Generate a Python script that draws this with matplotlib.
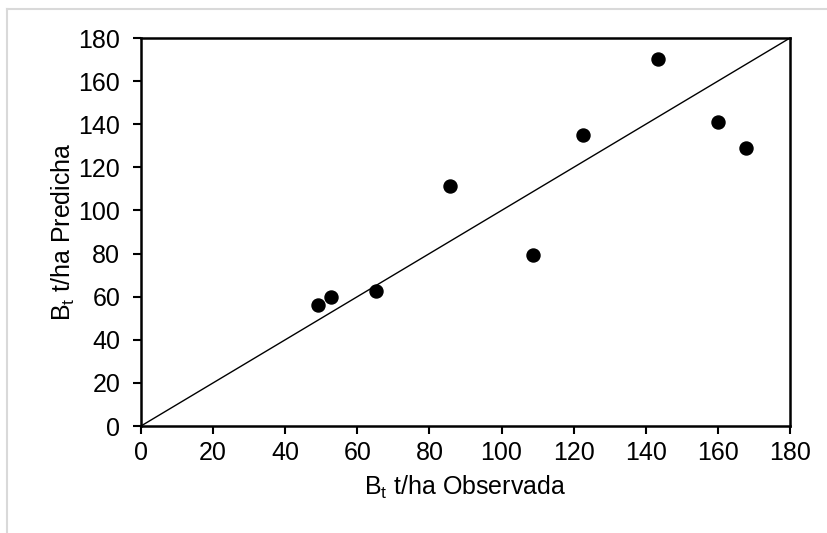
import matplotlib
matplotlib.use("Agg")
import matplotlib.pyplot as plt
from matplotlib.lines import Line2D

plt.rcParams['font.family'] = ['Liberation Sans', 'DejaVu Sans']

observada = [49.1, 52.7, 65.2, 85.7, 108.7, 122.6, 143.5, 159.9, 167.8]
predicha = [56.1, 59.7, 62.6, 111.5, 79.3, 134.8, 170.1, 140.9, 128.8]
ticks = [0, 20, 40, 60, 80, 100, 120, 140, 160, 180]
line_1to1 = [0, 180]

fig = plt.figure(figsize=(8.28, 5.33), dpi=100)
ax = fig.add_axes([141/828, 1-426/533, (790-141)/828, (426-38)/533])

ax.plot(line_1to1, line_1to1, color='black', lw=1.0, zorder=2)
ax.scatter(observada, predicha, s=88, color='black', zorder=3, clip_on=False)

ax.set_xlim(0, 180)
ax.set_ylim(0, 180)
ax.set_xticks(ticks)
ax.set_yticks(ticks)
ax.tick_params(direction='out', length=6, width=1.5, labelsize=18, colors='black')
ax.tick_params(axis='y', pad=9)
ax.tick_params(axis='x', pad=5)
for s in ax.spines.values():
    s.set_linewidth(1.8)

ax.set_xlabel(r'B$_\mathregular{t}$ t/ha Observada', fontsize=18, labelpad=6)
ax.set_ylabel(r'B$_\mathregular{t}$ t/ha Predicha', fontsize=18, labelpad=1)

# light gray outer frame
fig.add_artist(Line2D([7/828, 7/828], [0, 1-9/533], transform=fig.transFigure, color='#d9d9d9', lw=1.5))
fig.add_artist(Line2D([7/828, 1], [1-9/533, 1-9/533], transform=fig.transFigure, color='#d9d9d9', lw=1.5))

fig.savefig('out.png', dpi=100)
